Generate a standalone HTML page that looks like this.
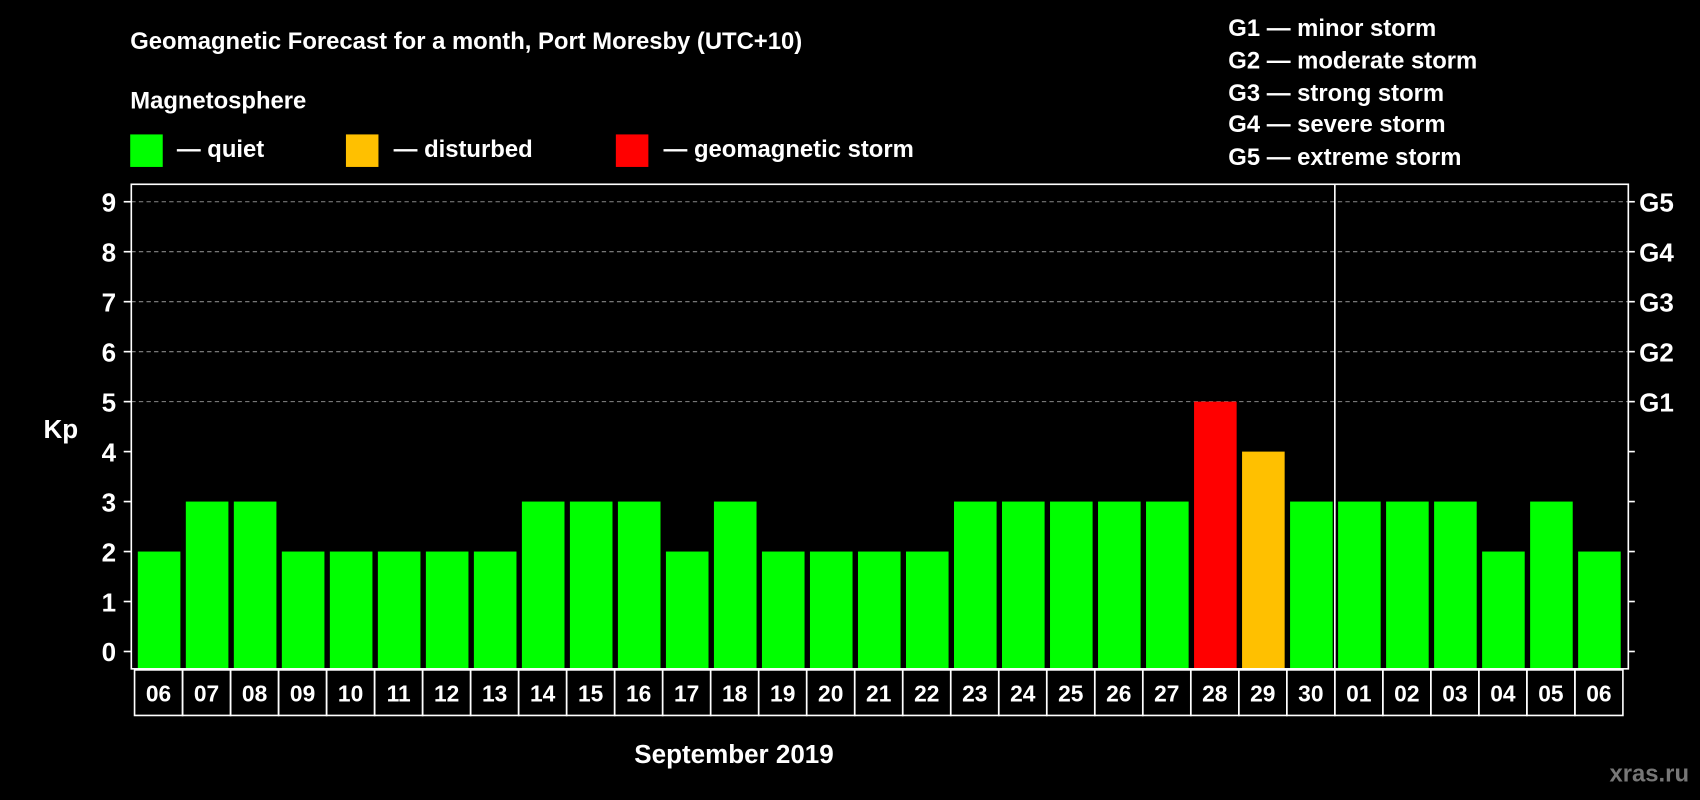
<!DOCTYPE html>
<html><head><meta charset="utf-8">
<style>
html,body{margin:0;padding:0;background:#000;}
svg{display:block;font-family:"Liberation Sans",Arial,sans-serif;font-weight:bold;}
</style></head>
<body>
<svg id="chart" width="1700" height="800" viewBox="0 0 1568 738" xmlns="http://www.w3.org/2000/svg">
<rect width="1568" height="738" fill="#000"/>
<text x="120" y="45" fill="#fff" font-size="22">Geomagnetic Forecast for a month, Port Moresby (UTC+10)</text>
<text x="120" y="100" fill="#fff" font-size="22">Magnetosphere</text>
<g>
<rect x="120" y="124" width="30" height="30" fill="#00ff00"/>
<text x="163" y="145" fill="#fff" font-size="22">— quiet</text></g>
<g>
<rect x="319" y="124" width="30" height="30" fill="#ffc000"/>
<text x="363" y="145" fill="#fff" font-size="22">— disturbed</text></g>
<g>
<rect x="568" y="124" width="30" height="30" fill="#ff0000"/>
<text x="612" y="145" fill="#fff" font-size="22">— geomagnetic storm</text></g>
<g fill="#fff" font-size="22">
<text x="1133" y="33">G1 — minor storm</text>
<text x="1133" y="63">G2 — moderate storm</text>
<text x="1133" y="93">G3 — strong storm</text>
<text x="1133" y="122">G4 — severe storm</text>
<text x="1133" y="152">G5 — extreme storm</text>
</g>
<text x="40" y="404" fill="#fff" font-size="24">Kp</text>
<g id="grid"></g>
<g id="bars"></g>
<g id="axes"></g>
<text x="677" y="704" fill="#fff" font-size="24" text-anchor="middle">September 2019</text>
<text x="1558" y="721" fill="#777" font-size="22" text-anchor="end">xras.ru</text>
</svg>
<script>
const days = ["06","07","08","09","10","11","12","13","14","15","16","17","18","19","20","21","22","23","24","25","26","27","28","29","30","01","02","03","04","05","06"];
const kpValues = [2,3,3,2,2,2,2,2,3,3,3,2,3,2,2,2,2,3,3,3,3,3,5,4,3,3,3,3,2,3,2];
const yTicks = [0,1,2,3,4,5,6,7,8,9];
const gLabels = ["G1","G2","G3","G4","G5"];
const gLevels = [5,6,7,8,9];
const monthBreakIndex = 25;

const NS="http://www.w3.org/2000/svg";
const L=121,R=1502,T=170,B=617,X0=124,X1=1497;
const n=days.length, step=(X1-X0)/n;
function yS(v){return 601-v*46.1;}
function xS(i){return X0+i*step;}
function mk(tag,attrs,parent){const e=document.createElementNS(NS,tag);for(const k in attrs)e.setAttribute(k,attrs[k]);parent.appendChild(e);return e;}
const grid=document.getElementById('grid'),bars=document.getElementById('bars'),axes=document.getElementById('axes');
gLevels.forEach((v,i)=>{
  const l=mk('line',{x1:L,x2:R,y1:yS(v),y2:yS(v),stroke:'#888','stroke-dasharray':'4,3','stroke-width':1},grid);
  
  
  const t=mk('text',{x:1512,y:yS(v)+9,fill:'#fff','font-size':24},axes);
  t.textContent=gLabels[i];
  
  
});
kpValues.forEach((v,i)=>{
  const c=v>=5?'#ff0000':(v>=4?'#ffc000':'#00ff00');
  const r=mk('rect',{x:xS(i)+3,y:yS(v),width:step-5,height:yS(0)-yS(v)+16,fill:c},bars);
  
  
});
const frame=mk('rect',{x:L,y:T,width:R-L,height:B-T,fill:'none',stroke:'#fff','stroke-width':1.5},axes);


const sep=mk('line',{x1:xS(monthBreakIndex),x2:xS(monthBreakIndex),y1:T,y2:B,stroke:'#fff','stroke-width':1.5},axes);


yTicks.forEach(v=>{
  mk('line',{x1:114,x2:L,y1:yS(v),y2:yS(v),stroke:'#fff','stroke-width':1.5},axes);
  mk('line',{x1:R,x2:1508,y1:yS(v),y2:yS(v),stroke:'#fff','stroke-width':1.5},axes);
  const t=mk('text',{x:107,y:yS(v)+9,fill:'#fff','font-size':24,'text-anchor':'end'},axes);
  t.textContent=v;
  
  
});
days.forEach((d,i)=>{
  const c=mk('rect',{x:xS(i),y:618,width:step,height:42,fill:'none',stroke:'#fff','stroke-width':1.5},axes);
  
  
  const t=mk('text',{x:xS(i)+step/2,y:647,fill:'#fff','font-size':21,'text-anchor':'middle'},axes);
  t.textContent=d;
  
  
});
</script>
</body></html>
